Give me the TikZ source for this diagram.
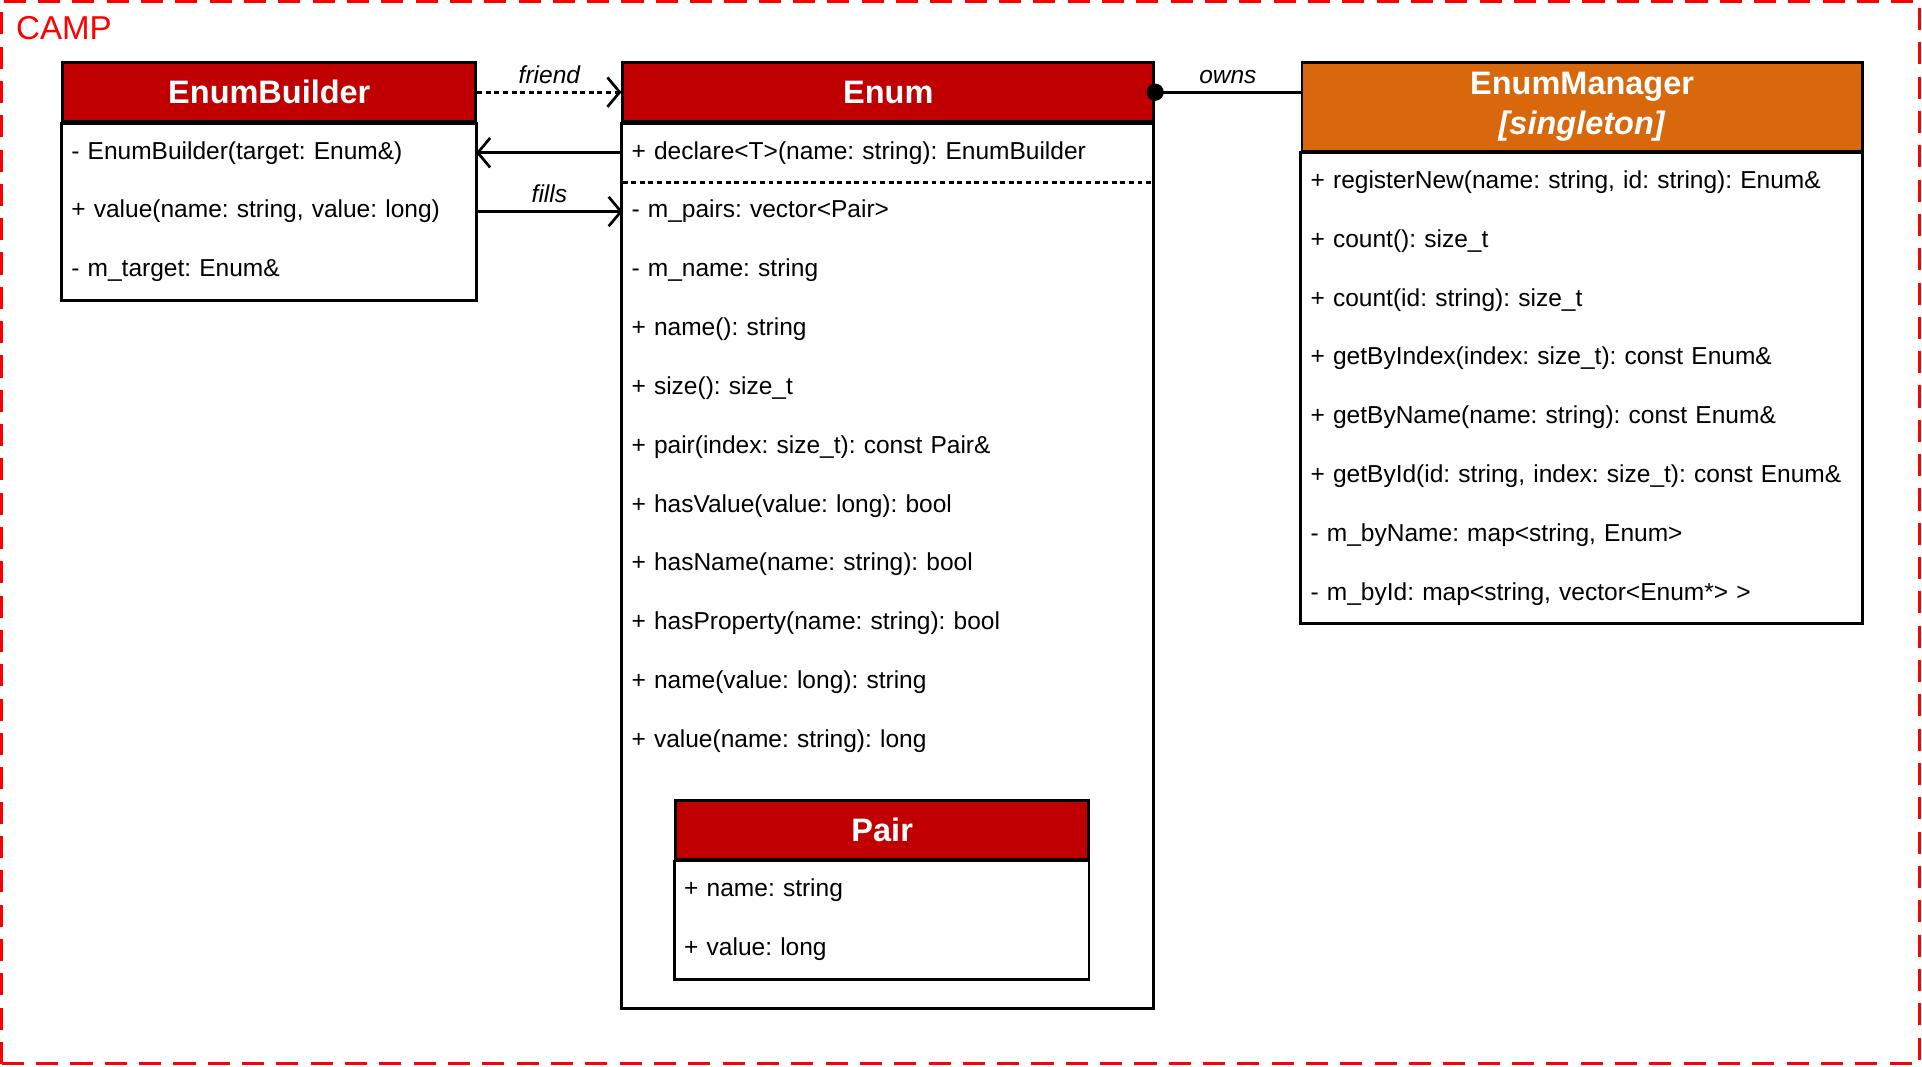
\documentclass[tikz,border=0pt]{standalone}
\usepackage{fontspec}
\setmainfont{Liberation Sans}
\usetikzlibrary{
    positioning,
    arrows.meta,
    calc
}
\definecolor{headRed}{RGB}{192, 0, 0}
\definecolor{headOrange}{RGB}{217, 104, 13}
\definecolor{campRed}{RGB}{255, 0, 0}
\frenchspacing
\tikzset{
    classhead/.style={draw, line width=2.4pt, fill=headRed, text=white, inner sep=0pt,
        minimum height=48pt, anchor=north west, align=center,
        font=\fontsize{26.5}{33}\selectfont\bfseries},
    member/.style={anchor=north, minimum height=48pt, inner xsep=7pt, inner ysep=0pt,
        text width=#1, align=left, font=\fontsize{20}{24}\selectfont},
    boxline/.style={line width=2.4pt},
    link/.style={line width=2.2pt},
    opentip/.style={-{Straight Barb[length=10pt, width=24pt, line width=2.2pt]}},
    linklabel/.style={midway, above, inner sep=6pt, font=\fontsize{20}{24}\selectfont\itshape}
}

\begin{document}
\begin{tikzpicture}[x=1pt, y=1pt]
        \useasboundingbox (0,0) rectangle (1568,870);
        \draw[campRed, line width=2.5pt, dash pattern=on 18pt off 10pt] (1.5,2) rectangle (1566,868.5);
        \node[text=campRed, anchor=west, inner sep=0pt, font=\fontsize{27}{30}\selectfont] (camp) at (13,847) {CAMP};

        % EnumBuilder
        \node[classhead, minimum width=337pt] (builder) at (50,820) {EnumBuilder};
        \foreach \txt [count=\i] in {{- EnumBuilder(target: Enum\&)}, {+ value(name: string, value: long)}, {- m\_target: Enum\&}}
            \node[member=323pt] (builder-\i) at ($(builder.south)+(0,{-48*(\i-1)})$) {\txt};
        \draw[boxline] (builder.south west) rectangle (builder-3.south east);

        % Enum
        \node[classhead, minimum width=433pt] (enum) at (507,820) {Enum};
        \foreach \txt [count=\i] in {{+ declare<T>(name: string): EnumBuilder}, {- m\_pairs: vector<Pair>}, {- m\_name: string},
            {+ name(): string}, {+ size(): size\_t}, {+ pair(index: size\_t): const Pair\&}, {+ hasValue(value: long): bool},
            {+ hasName(name: string): bool}, {+ hasProperty(name: string): bool}, {+ name(value: long): string},
            {+ value(name: string): long}}
            \node[member=419pt] (enum-\i) at ($(enum.south)+(0,{-48*(\i-1)})$) {\txt};
        \draw[boxline] (enum.south west) rectangle ([yshift=-194pt]enum-11.south east);
        \draw[line width=2pt, dash pattern=on 4pt off 3pt] (enum-1.south west) -- (enum-1.south east);

        % Pair
        \node[classhead, minimum width=337pt] (pair) at (550,218) {Pair};
        \foreach \txt [count=\i] in {{+ name: string}, {+ value: long}}
            \node[member=323pt] (pair-\i) at ($(pair.south)+(0,{-48*(\i-1)})$) {\txt};
        \draw[boxline] (pair.south west) rectangle (pair-2.south east);

        % EnumManager
        \node[classhead, minimum width=457pt, minimum height=72pt, fill=headOrange] (manager) at (1061,820) {EnumManager\\\textit{[singleton]}};
        \foreach \txt [count=\i] in {{+ registerNew(name: string, id: string): Enum\&}, {+ count(): size\_t}, {+ count(id: string): size\_t},
            {+ getByIndex(index: size\_t): const Enum\&}, {+ getByName(name: string): const Enum\&},
            {+ getById(id: string, index: size\_t): const Enum\&}, {- m\_byName: map<string, Enum>},
            {- m\_byId: map<string, vector<Enum*> >}}
            \node[member=443pt] (manager-\i) at ($(manager.south)+(0,{-48*(\i-1)})$) {\txt};
        \draw[boxline] (manager.south west) rectangle (manager-8.south east);

        \draw[link, opentip, dash pattern=on 4pt off 3pt] (builder.east) -- (enum.west) node[linklabel]{friend};
        \draw[link, opentip] (enum-1.west) -- (builder-1.east);
        \draw[link, opentip] (builder-2.east) -- (enum-2.west) node[linklabel]{fills};
        \draw[link, {Circle[length=14pt]}-, shorten <=-7pt] (enum.east) -- (enum.east -| manager.west) node[linklabel]{owns};
    \end{tikzpicture}
\end{document}
